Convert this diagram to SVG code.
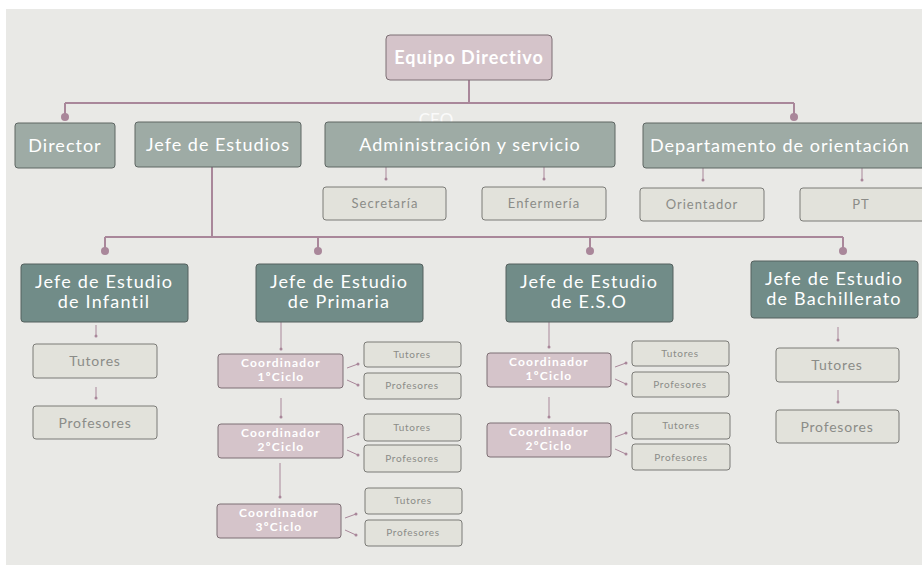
<svg xmlns="http://www.w3.org/2000/svg" width="922" height="568" viewBox="0 0 922 568">
<style>
.bg{fill:#e9e9e6}
.pink{fill:#d5c4ca;stroke:#7d6f74;stroke-width:1}
.top{fill:#9eaba5;stroke:#5e6663;stroke-width:1}
.dark{fill:#718c88;stroke:#55605e;stroke-width:1}
.light{fill:#e2e2db;stroke:#7b7b77;stroke-width:1}
.w{fill:#ffffff;font-family:Lato,"Noto Sans",sans-serif;text-anchor:middle}
.g{fill:#8b8c88;font-family:Lato,"Noto Sans",sans-serif;text-anchor:middle}
.t18{font-size:18px;letter-spacing:1px}
.big{font-size:18px;letter-spacing:1.2px}
.co{font-size:12px;font-weight:bold;letter-spacing:1.2px}
.s{font-size:10px;letter-spacing:0.7px}
.m{font-size:13px;letter-spacing:1px}
.ln{stroke:#a9879a;fill:none}
.dot{fill:#a9879a}
</style>
<rect x="0" y="0" width="922" height="568" fill="#ffffff"/>
<rect class="bg" x="6" y="9" width="916" height="556"/>
<text x="436" y="126" class="w" font-size="17" opacity="0.8">CEO</text>
<g id="connectors">
<path class="ln" stroke-width="2" d="M469 80V103M65 103H794M65 103V117M794 103V117"/>
<circle class="dot" cx="65" cy="117" r="4"/>
<circle class="dot" cx="794" cy="117" r="4"/>
<path class="ln" stroke-width="1" d="M386 167V179M544 167V179M703 168V180M862 168V180"/>
<circle class="dot" cx="386" cy="179" r="1.5"/><circle class="dot" cx="544" cy="179" r="1.5"/><circle class="dot" cx="703" cy="180" r="1.5"/><circle class="dot" cx="862" cy="180" r="1.5"/>
<path class="ln" stroke-width="2" d="M212 167V237M105 237H843M105 237V251M318 237V251M590 237V251M843 237V251"/>
<circle class="dot" cx="105" cy="251" r="4"/><circle class="dot" cx="318" cy="251" r="4"/><circle class="dot" cx="590" cy="251" r="4"/><circle class="dot" cx="843" cy="251" r="4"/>
<path class="ln" stroke-width="1" d="M96 325V336M96 387V398M838 327V340M838 390V402"/>
<circle class="dot" cx="96" cy="336" r="1.5"/><circle class="dot" cx="96" cy="398" r="1.5"/><circle class="dot" cx="838" cy="340" r="1.5"/><circle class="dot" cx="838" cy="402" r="1.5"/>
<path class="ln" stroke-width="1" d="M281 322V349M281 398V417M280 463V497M549 322V347M549 397V417"/>
<circle class="dot" cx="281" cy="349" r="1.5"/><circle class="dot" cx="281" cy="417" r="1.5"/><circle class="dot" cx="280" cy="497" r="1.5"/><circle class="dot" cx="549" cy="347" r="1.5"/><circle class="dot" cx="549" cy="417" r="1.5"/>
<path class="ln" stroke-width="1" d="M347 368L358 364M347 380L358 385M347 438L358 434M347 450L358 455M345 518L356 514M345 530L356 535M615 367L626 363M615 379L626 384M615 437L626 433M615 449L626 454"/>
<circle class="dot" cx="358" cy="364" r="1.5"/><circle class="dot" cx="358" cy="385" r="1.5"/><circle class="dot" cx="358" cy="434" r="1.5"/><circle class="dot" cx="358" cy="455" r="1.5"/><circle class="dot" cx="356" cy="514" r="1.5"/><circle class="dot" cx="356" cy="535" r="1.5"/><circle class="dot" cx="626" cy="363" r="1.5"/><circle class="dot" cx="626" cy="384" r="1.5"/><circle class="dot" cx="626" cy="433" r="1.5"/><circle class="dot" cx="626" cy="454" r="1.5"/>
</g>
<g id="equipo"><rect class="pink" x="386" y="35" width="166" height="45" rx="4"/><text class="w" x="469" y="64" font-size="18" font-weight="bold" letter-spacing="1">Equipo Directivo</text></g>
<g id="director"><rect class="top" x="15" y="123" width="100" height="45" rx="3"/><text class="w t18" x="65" y="152">Director</text></g>
<g id="jefe-estudios"><rect class="top" x="135" y="122" width="166" height="45" rx="3"/><text class="w t18" x="218" y="151">Jefe de Estudios</text></g>
<g id="admin"><rect class="top" x="325" y="122" width="290" height="45" rx="3"/><text class="w t18" x="470" y="151">Administración y servicio</text></g>
<g id="depto"><rect class="top" x="643" y="123" width="285" height="45" rx="3"/><text class="w t18" x="650" y="152" style="text-anchor:start">Departamento de orientación</text></g>
<g id="secretaria"><rect class="light" x="323" y="187" width="123" height="33" rx="3"/><text class="g m" x="385" y="208">Secretaría</text></g>
<g id="enfermeria"><rect class="light" x="482" y="187" width="124" height="33" rx="3"/><text class="g m" x="544" y="208">Enfermería</text></g>
<g id="orientador"><rect class="light" x="640" y="188" width="124" height="33" rx="3"/><text class="g m" x="702" y="209">Orientador</text></g>
<g id="pt"><rect class="light" x="800" y="188" width="126" height="33" rx="3"/><text class="g m" x="861" y="209">PT</text></g>
<g id="infantil"><rect class="dark" x="21" y="264" width="167" height="58" rx="3"/><text class="w big" x="104" y="288">Jefe de Estudio</text><text class="w big" x="104" y="308">de Infantil</text></g>
<g id="primaria"><rect class="dark" x="256" y="264" width="167" height="58" rx="3"/><text class="w big" x="339" y="288">Jefe de Estudio</text><text class="w big" x="339" y="308">de Primaria</text></g>
<g id="eso"><rect class="dark" x="506" y="264" width="167" height="58" rx="3"/><text class="w big" x="589" y="288">Jefe de Estudio</text><text class="w big" x="589" y="308">de E.S.O</text></g>
<g id="bachillerato"><rect class="dark" x="751" y="261" width="167" height="57" rx="3"/><text class="w big" x="834" y="285">Jefe de Estudio</text><text class="w big" x="834" y="305">de Bachillerato</text></g>
<g id="inf-tutores"><rect class="light" x="33" y="344" width="124" height="34" rx="3"/><text class="g" x="95" y="366" font-size="14" letter-spacing="0.8">Tutores</text></g>
<g id="inf-profesores"><rect class="light" x="33" y="406" width="124" height="33" rx="3"/><text class="g" x="95" y="428" font-size="14" letter-spacing="0.8">Profesores</text></g>
<g id="bach-tutores"><rect class="light" x="776" y="348" width="123" height="34" rx="3"/><text class="g" x="837" y="370" font-size="14" letter-spacing="0.8">Tutores</text></g>
<g id="bach-profesores"><rect class="light" x="776" y="410" width="123" height="33" rx="3"/><text class="g" x="837" y="432" font-size="14" letter-spacing="0.8">Profesores</text></g>
<g id="pri-c1"><rect class="pink" x="218" y="354" width="125" height="34" rx="3"/><text class="w co" x="281" y="367">Coordinador</text><text class="w co" x="281" y="381">1ºCiclo</text></g>
<g id="pri-c2"><rect class="pink" x="218" y="424" width="125" height="34" rx="3"/><text class="w co" x="281" y="437">Coordinador</text><text class="w co" x="281" y="451">2ºCiclo</text></g>
<g id="pri-c3"><rect class="pink" x="217" y="504" width="124" height="34" rx="3"/><text class="w co" x="279" y="517">Coordinador</text><text class="w co" x="279" y="531">3ºCiclo</text></g>
<g id="eso-c1"><rect class="pink" x="487" y="353" width="124" height="34" rx="3"/><text class="w co" x="549" y="366">Coordinador</text><text class="w co" x="549" y="380">1ºCiclo</text></g>
<g id="eso-c2"><rect class="pink" x="487" y="423" width="124" height="34" rx="3"/><text class="w co" x="549" y="436">Coordinador</text><text class="w co" x="549" y="450">2ºCiclo</text></g>
<g id="pri-t1"><rect class="light" x="364" y="342" width="97" height="25" rx="3"/><text class="g s" x="412" y="358">Tutores</text></g>
<g id="pri-p1"><rect class="light" x="364" y="373" width="97" height="26" rx="3"/><text class="g s" x="412" y="389">Profesores</text></g>
<g id="pri-t2"><rect class="light" x="364" y="414" width="97" height="27" rx="3"/><text class="g s" x="412" y="431">Tutores</text></g>
<g id="pri-p2"><rect class="light" x="364" y="445" width="97" height="27" rx="3"/><text class="g s" x="412" y="462">Profesores</text></g>
<g id="pri-t3"><rect class="light" x="365" y="488" width="97" height="26" rx="3"/><text class="g s" x="413" y="504">Tutores</text></g>
<g id="pri-p3"><rect class="light" x="365" y="520" width="97" height="26" rx="3"/><text class="g s" x="413" y="536">Profesores</text></g>
<g id="eso-t1"><rect class="light" x="632" y="341" width="97" height="25" rx="3"/><text class="g s" x="680" y="357">Tutores</text></g>
<g id="eso-p1"><rect class="light" x="632" y="372" width="97" height="25" rx="3"/><text class="g s" x="680" y="388">Profesores</text></g>
<g id="eso-t2"><rect class="light" x="632" y="413" width="98" height="26" rx="3"/><text class="g s" x="681" y="429">Tutores</text></g>
<g id="eso-p2"><rect class="light" x="632" y="444" width="98" height="26" rx="3"/><text class="g s" x="681" y="461">Profesores</text></g>
</svg>
